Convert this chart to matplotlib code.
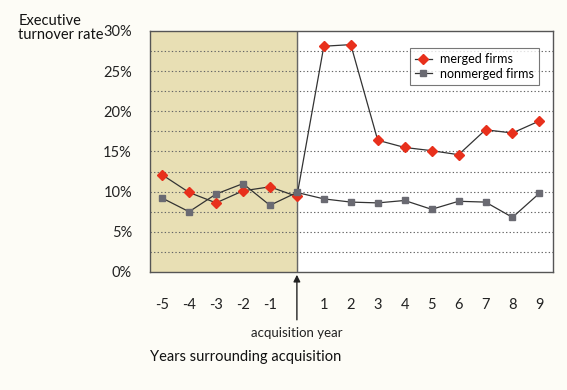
import numpy as np
from matplotlib import pyplot as plt

years = [-5, -4, -3, -2, -1, 0, 1, 2, 3, 4, 5, 6, 7, 8, 9]
merged = [12.1, 9.9, 8.6, 10.1, 10.6, 9.4, 28.1, 28.3, 16.4, 15.5, 15.1, 14.6, 17.7, 17.3, 18.8]
nonmerged = [9.2, 7.5, 9.7, 11.0, 8.3, 9.9, 9.1, 8.7, 8.6, 8.9, 7.8, 8.8, 8.7, 6.8, 9.8]
tick_years = [-5, -4, -3, -2, -1, 1, 2, 3, 4, 5, 6, 7, 8, 9]
y_ticks = [0, 5, 10, 15, 20, 25, 30]

plt.rcParams['font.family'] = ['Lato', 'DejaVu Sans']

bg = '#fdfcf6'
fig = plt.figure(figsize=(5.67, 3.9), dpi=100, facecolor=bg)
ax = fig.add_axes([0.2646, 0.3026, 0.7105, 0.618])
ax.set_facecolor('white')

ax.axvspan(-5.45, 0, color='#e8dfb4', zorder=0)
for g in np.arange(2.5, 30, 2.5):
    ax.axhline(g, color='#666666', lw=0.8, ls=(0, (1.2, 2)), zorder=1)
ax.axvline(0, color='#666666', lw=1.0, zorder=1)

ax.plot(years, merged, color='#333333', lw=0.9, marker='D', ms=5.5,
        mfc='#e8301c', mec='#e8301c', label='merged firms', zorder=3)
ax.plot(years, nonmerged, color='#333333', lw=0.9, marker='s', ms=4.5,
        mfc='#6a6a72', mec='#6a6a72', label='nonmerged firms', zorder=3)

ax.set_xlim(-5.45, 9.5)
ax.set_ylim(0, 30)
ax.set_xticks(tick_years)
ax.set_xticklabels([str(t) for t in tick_years])
ax.set_yticks(y_ticks)
ax.set_yticklabels([f'{t}%' for t in y_ticks])
ax.tick_params(length=0, labelsize=10.5, colors='#222222')
ax.tick_params(axis='x', pad=19)
ax.tick_params(axis='y', pad=13)
for s in ax.spines.values():
    s.set_color('#555555')
    s.set_linewidth(1.0)

leg = ax.legend(loc='upper right', bbox_to_anchor=(0.98, 0.955), fontsize=9,
                frameon=True, fancybox=False, handlelength=1.4,
                borderpad=0.4, labelspacing=0.2, handletextpad=0.6)
leg.get_frame().set_edgecolor('#555555')
leg.get_frame().set_linewidth(0.8)

ax.annotate('', xy=(0, 0), xytext=(0, -6.3), xycoords='data',
            arrowprops=dict(arrowstyle='-|>', color='#222222', lw=1.0),
            annotation_clip=False)
ax.text(0, -6.9, 'acquisition year', ha='center', va='top', fontsize=9.5,
        color='#222222', clip_on=False)

fig.text(0.032, 0.965, 'Executive\nturnover rate', ha='left', va='top',
         fontsize=10.5, color='#111111', linespacing=1.05)
fig.text(0.264, 0.085, 'Years surrounding acquisition', ha='left', va='center',
         fontsize=10.5, color='#111111')

fig.savefig('out.png', dpi=100, facecolor=bg)
